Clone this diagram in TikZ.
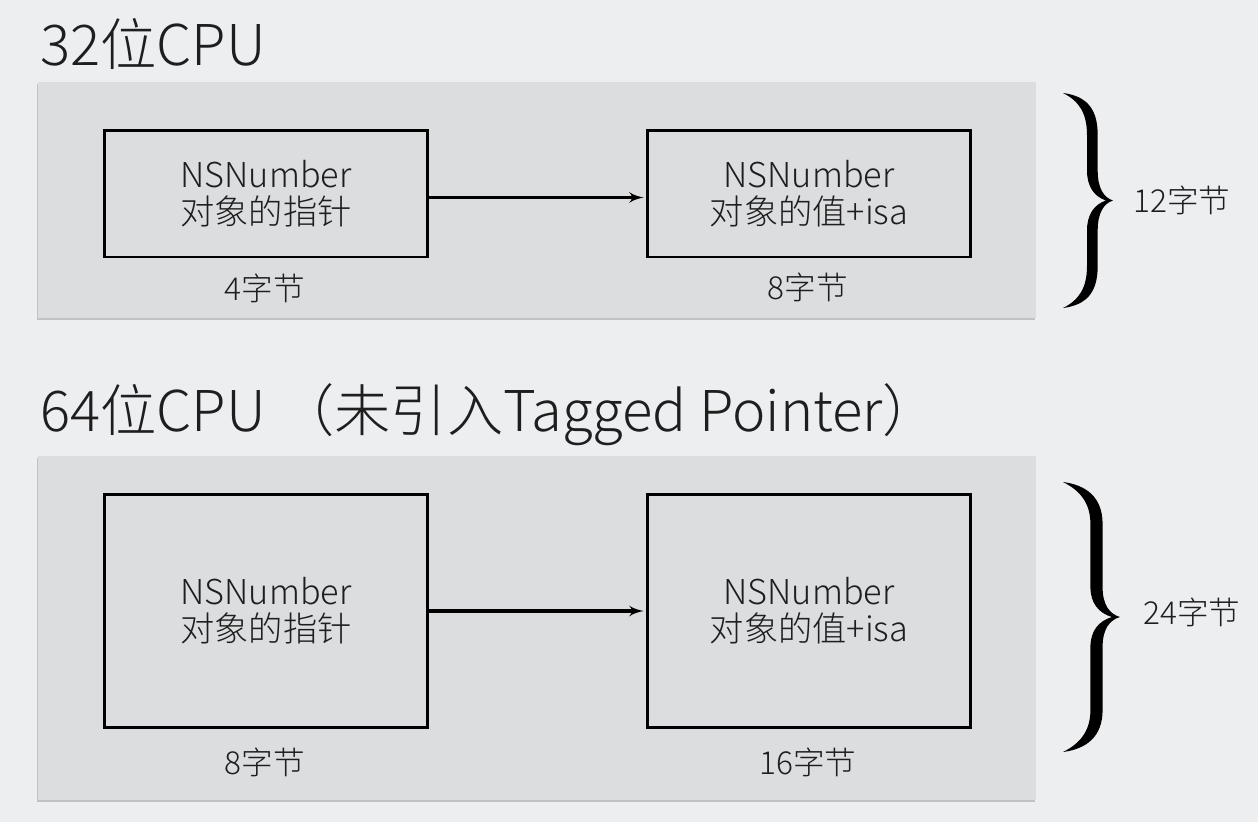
\documentclass[tikz,border=0pt]{standalone}
\usepackage{fontspec}
\setmainfont{Noto Sans CJK SC Light}
\usetikzlibrary{arrows}
\usetikzlibrary{calc}
\usetikzlibrary{shadows}
\definecolor{pagebg}{RGB}{237,238,240}
\definecolor{panelbg}{RGB}{220,221,223}
\definecolor{inkgray}{RGB}{30,30,30}

\tikzset{
  panel/.style={fill=panelbg,drop shadow={shadow xshift=-0.8pt,shadow yshift=-1.4pt,opacity=0.4}},
  title/.style={anchor=west,inner sep=0pt,text=inkgray,font=\fontsize{32}{34}\selectfont},
  membox/.style={draw=black,line width=1.7pt,minimum width=6.48cm,align=center,text=inkgray,
                 font=\fontsize{19.5}{21}\selectfont},
  sizelabel/.style={inner sep=0pt,text=inkgray,font=\fontsize{18}{20}\selectfont},
  bracelabel/.style={anchor=west,inner sep=0pt,text=inkgray,font=\fontsize{18}{20}\selectfont},
  pointsto/.style={draw=black,line width=1.8pt,-latex'}
}
% #1 left x, #2 middle y, #3 half height, #4 reach of the tip
\newcommand\curlybrace[4]{%
  \begin{scope}[shift={(#1,#2)}]
  \fill (1,-#3) .. controls (24,{-#3+3}) and ({0.7*#4},{-#3+15}) .. ({0.7*#4},{-#3+42})
    -- ({0.7*#4},-30) .. controls ({0.7*#4},-12) and ({0.82*#4},-3) .. (#4,0)
    .. controls ({0.82*#4},3) and ({0.7*#4},12) .. ({0.7*#4},30)
    -- ({0.7*#4},{#3-42}) .. controls ({0.7*#4},{#3-15}) and (24,{#3-3}) .. (1,#3)
    .. controls (17,{#3-8}) and ({0.49*#4},{#3-20}) .. ({0.49*#4},{#3-42})
    -- ({0.49*#4},30) .. controls ({0.49*#4},14) and ({0.63*#4},4) .. ({0.86*#4},0)
    .. controls ({0.63*#4},-4) and ({0.49*#4},-14) .. ({0.49*#4},-30)
    -- ({0.49*#4},{-#3+42}) .. controls ({0.49*#4},{-#3+20}) and (17,{-#3+8}) .. (1,-#3)
    -- cycle;
  \end{scope}}

\begin{document}
\begin{tikzpicture}[x=0.02cm,y=-0.02cm]
\fill[pagebg] (0,0) rectangle (1258,822);
\useasboundingbox (0,0) rectangle (1258,822);
% 32 bit
\node[title] (head32) at (40,44) {32位CPU};
\path[panel] (38,82) rectangle (1036,318);
\node[membox,minimum height=2.54cm] (ptr32) at (266,193.5) {NSNumber\\对象的指针};
\node[membox,minimum height=2.54cm] (obj32) at (809,193.5) {NSNumber\\对象的值+isa};
\node[sizelabel] (ptrsize32) at (265,288) {4字节};
\node[sizelabel] (objsize32) at (808,287) {8字节};
\path[pointsto] ($(ptr32.east)+(0,4)$) -- ($(obj32.west)+(-2,4)$);
\curlybrace{1062}{200.5}{107.5}{51}
\node[bracelabel] (total32) at (1133,200) {12字节};
% 64 bit
\node[title] (head64) at (40,415) {64位CPU （未引入Tagged Pointer）};
\path[panel] (38,456) rectangle (1036,800);
\node[membox,minimum height=4.68cm] (ptr64) at (266,611) {NSNumber\\对象的指针};
\node[membox,minimum height=4.68cm] (obj64) at (809,611) {NSNumber\\对象的值+isa};
\node[sizelabel] (ptrsize64) at (265,762) {8字节};
\node[sizelabel] (objsize64) at (808,762) {16字节};
\path[pointsto] (ptr64.east) -- ($(obj64.west)+(-2,0)$);
\curlybrace{1062}{617}{135}{58}
\node[bracelabel] (total64) at (1143,612) {24字节};
\end{tikzpicture}
\end{document}
